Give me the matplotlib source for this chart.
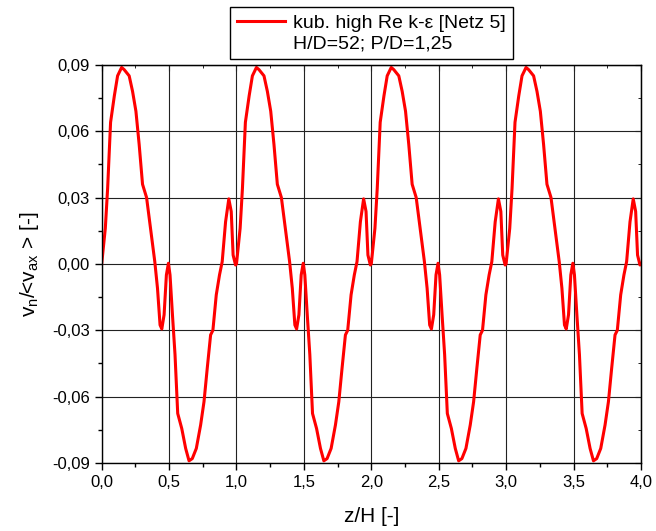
import matplotlib
matplotlib.use('Agg')
import matplotlib.pyplot as plt
import numpy as np
from matplotlib.lines import Line2D
from matplotlib.ticker import MultipleLocator, FuncFormatter

plt.rcParams['font.family'] = ['Liberation Sans', 'DejaVu Sans']

# one period of the profile (z/H in [0, 1)); the curve repeats every 1.0
period_z = [0.000, 0.027, 0.044, 0.066, 0.094, 0.118, 0.148, 0.167, 0.204, 0.229,
            0.254, 0.278, 0.303, 0.333, 0.365, 0.394, 0.414, 0.433, 0.446, 0.463,
            0.480, 0.495, 0.507, 0.525, 0.544, 0.564, 0.594, 0.623, 0.648, 0.672,
            0.702, 0.734, 0.759, 0.783, 0.808, 0.825, 0.850, 0.874, 0.894, 0.919,
            0.943, 0.961, 0.975, 0.993]
period_v = [0.0000, 0.0161, 0.0340, 0.0640, 0.0760, 0.0850, 0.0888, 0.0878, 0.0850, 0.0780,
            0.0690, 0.0540, 0.0360, 0.0300, 0.0146, 0.0010, -0.0110, -0.0276, -0.0294, -0.0230,
            -0.0050, 0.0003, -0.0050, -0.0230, -0.0410, -0.0676, -0.0744, -0.0834, -0.0890, -0.0880,
            -0.0834, -0.0728, -0.0623, -0.0472, -0.0321, -0.0300, -0.0140, -0.0050, 0.0010, 0.0190,
            0.0294, 0.0237, 0.0040, -0.0005]
n_periods = 4

z = np.concatenate([np.array(period_z) + k for k in range(n_periods)] + [[float(n_periods)]])
v = np.concatenate([np.array(period_v) for k in range(n_periods)] + [[0.0]])

fig = plt.figure(figsize=(6.56, 5.31), dpi=100)
ax = fig.add_axes([0.155, 0.128, 0.822, 0.750])

ax.plot(z, v, color='red', lw=2.2, label='kub. high Re k-\u03b5 [Netz 5]')

ax.set_xlim(0, 4)
ax.set_ylim(-0.09, 0.09)
ax.xaxis.set_major_locator(MultipleLocator(0.5))
ax.xaxis.set_minor_locator(MultipleLocator(0.25))
ax.yaxis.set_major_locator(MultipleLocator(0.03))
ax.yaxis.set_minor_locator(MultipleLocator(0.015))
ax.xaxis.set_major_formatter(FuncFormatter(lambda x, p: f'{x:.1f}'.replace('.', ',')))
ax.yaxis.set_major_formatter(FuncFormatter(lambda y, p: f'{y:.2f}'.replace('.', ',').replace('-0,00', '0,00')))
ax.grid(True, which='major', color='#222222', lw=0.8)

ax.tick_params(which='major', direction='out', length=5, width=1, labelsize=12)
ax.tick_params(which='minor', direction='out', length=3, width=1)
for s in ax.spines.values():
    s.set_linewidth(1)

# inward ticks on top and right
top = ax.secondary_xaxis('top')
top.xaxis.set_major_locator(MultipleLocator(0.5))
top.xaxis.set_minor_locator(MultipleLocator(0.25))
top.tick_params(which='both', direction='in', labeltop=False)
top.tick_params(which='major', length=4)
top.tick_params(which='minor', length=2.5)
right = ax.secondary_yaxis('right')
right.yaxis.set_major_locator(MultipleLocator(0.03))
right.yaxis.set_minor_locator(MultipleLocator(0.015))
right.tick_params(which='both', direction='in', labelright=False)
right.tick_params(which='major', length=4)
right.tick_params(which='minor', length=2.5)

ax.set_xlabel('z/H [-]', fontsize=15, labelpad=12)
ax.set_ylabel(r'v$_\mathregular{n}$/<v$_\mathregular{ax}$ > [-]', fontsize=15, labelpad=8)

extra = Line2D([], [], color='none')
leg = ax.legend(handles=[ax.lines[0], extra],
                labels=['kub. high Re k-\u03b5 [Netz 5]', 'H/D=52; P/D=1,25'],
                loc='lower center', bbox_to_anchor=(0.5, 1.0), fontsize=14,
                frameon=True, fancybox=False, edgecolor='black', framealpha=1,
                handlelength=2.5, borderpad=0.35, labelspacing=0.15, handletextpad=0.4,
                borderaxespad=0.3)
leg.get_frame().set_linewidth(1)

fig.savefig('out.png', dpi=100, facecolor='white')
